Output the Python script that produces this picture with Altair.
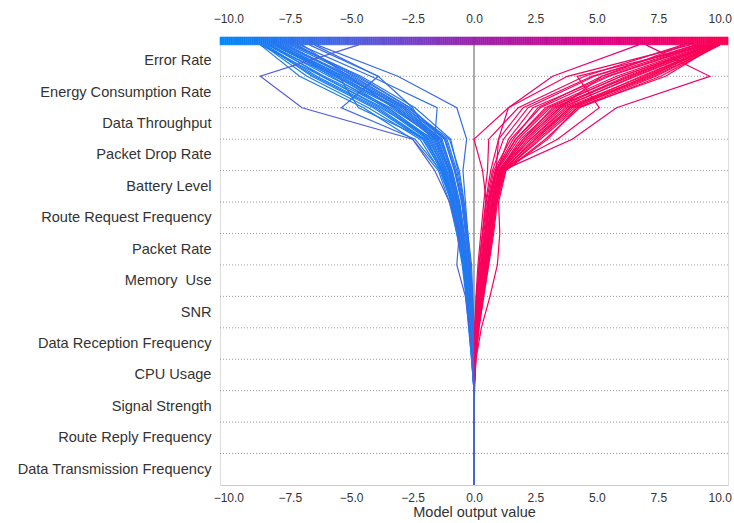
import json

import altair as alt
import numpy as np
import pandas as pd

# Features from the bottom of the plot (first contribution added) to the top
features = [
    "Data Transmission Frequency",
    "Route Reply Frequency",
    "Signal Strength",
    "CPU Usage",
    "Data Reception Frequency",
    "SNR",
    "Memory\u00a0 Use",
    "Packet Rate",
    "Route Request Frequency",
    "Battery Level",
    "Packet Drop Rate",
    "Data Throughput",
    "Energy Consumption Rate",
    "Error Rate",
]

base_value = 0.0
x_limits = [-10.34, 10.34]
axis_ticks = [-10.0, -7.5, -5.0, -2.5, 0.0, 2.5, 5.0, 7.5, 10.0]

# Cumulative model output (relative to base) after each feature, bottom -> top
blue_paths = [
    [0, 0, 0, 0, -0.05, -0.10, -0.20, -0.30, -0.50, -0.70, -1.10, -1.60, -3.20, -5.70, -8.40],
    [0, 0, 0, 0.02, -0.02, -0.08, -0.15, -0.25, -0.40, -0.60, -0.90, -1.30, -2.90, -5.30, -8.10],
    [0, 0, 0, 0, -0.10, -0.20, -0.30, -0.45, -0.70, -0.95, -1.30, -1.90, -3.70, -6.20, -8.70],
    [0, 0, 0, 0.01, 0.05, 0, -0.05, -0.10, -0.25, -0.40, -0.60, -1.00, -2.70, -5.00, -7.70],
    [0, 0, 0, 0, -0.03, -0.12, -0.22, -0.35, -0.55, -0.80, -1.20, -1.80, -3.50, -5.60, -8.00],
    [0, 0, 0, 0, 0, -0.05, -0.10, -0.20, -0.35, -0.50, -0.80, -1.20, -2.60, -4.70, -7.30],
    [0, 0, 0, 0, -0.05, -0.15, -0.25, -0.40, -0.60, -0.85, -1.25, -2.00, -3.90, -6.40, -8.50],
    [0, 0, 0, 0, 0.02, -0.02, -0.10, -0.18, -0.30, -0.45, -0.70, -1.10, -2.80, -5.10, -7.80],
    [0, 0, 0, 0, -0.08, -0.18, -0.28, -0.42, -0.62, -0.90, -1.35, -2.40, -5.40, -3.90, -6.50],
    [0, 0, 0, 0, 0, -0.05, -0.10, -0.15, -0.25, -0.35, -0.45, -0.30, -0.70, -3.10, -6.40],
    [0, 0, 0, 0, -0.04, -0.10, -0.18, -0.30, -0.48, -0.70, -1.00, -1.60, -1.50, -4.20, -7.10],
    [0, 0, 0, 0, -0.06, -0.14, -0.24, -0.36, -0.55, -0.78, -1.15, -1.75, -2.50, -3.90, -6.70],
    [0, 0, 0, 0, -0.02, -0.08, -0.16, -0.28, -0.45, -0.65, -1.00, -1.50, -3.10, -5.60, -8.20],
    [0, 0, 0, 0, -0.07, -0.16, -0.27, -0.40, -0.60, -0.88, -1.30, -2.10, -4.10, -6.60, -8.50],
    [0, 0, 0, 0, 0.03, -0.01, -0.06, -0.14, -0.28, -0.42, -0.65, -0.95, -2.40, -4.60, -7.40],
    [0, 0, 0, 0, -0.05, -0.12, -0.20, -0.32, -0.50, -0.72, -1.05, -1.55, -3.20, -5.40, -7.90],
    [0, 0, 0, 0, -0.09, -0.19, -0.30, -0.44, -0.66, -0.92, -1.40, -2.20, -4.30, -6.80, -8.60],
    [0, 0, 0, 0, -0.01, -0.07, -0.14, -0.24, -0.40, -0.58, -0.88, -1.35, -2.90, -5.20, -7.60],
    [0, 0, 0, 0, -0.04, -0.11, -0.19, -0.31, -0.49, -0.69, -1.02, -1.45, -3.40, -5.90, -8.30],
    [0, 0, 0, 0, -0.06, -0.13, -0.23, -0.37, -0.57, -0.82, -1.22, -1.85, -3.60, -5.80, -8.00],
    [0, 0, 0, 0, 0.01, -0.04, -0.09, -0.17, -0.32, -0.48, -0.75, -1.15, -2.60, -4.80, -7.50],
    [0, 0, 0, 0, -0.03, -0.09, -0.17, -0.27, -0.44, -0.62, -0.95, -1.40, -3.10, -5.50, -8.10],
    [0, 0, 0, 0, -0.10, -0.22, -0.33, -0.48, -0.70, -1.00, -1.45, -2.50, -4.50, -7.10, -8.70],
    [0, 0, 0, 0, -0.02, -0.06, -0.12, -0.20, -0.33, -0.50, -0.78, -1.20, -2.80, -4.90, -7.20],
    [0, 0, 0, 0, -0.05, -0.14, -0.24, -0.38, -0.58, -0.84, -1.18, -1.70, -3.50, -6.10, -8.40],
    [0, 0, 0, 0, -0.03, -0.10, -0.18, -0.29, -0.47, -0.66, -0.98, -1.50, -3.30, -5.10, -7.00],
    [0, 0, 0, 0, -0.06, -0.15, -0.26, -0.39, -0.59, -0.86, -1.28, -1.95, -4.70, -5.50, -8.10],
    [0, 0, 0, 0, -0.04, -0.12, -0.21, -0.33, -0.52, -0.75, -1.12, -1.65, -3.80, -6.20, -8.30],
    [0, 0, 0, 0, -0.02, -0.09, -0.17, -0.26, -0.42, -0.60, -0.92, -1.38, -3.00, -5.30, -7.90],
    [0, 0, 0, 0, -0.07, -0.17, -0.29, -0.43, -0.64, -0.91, -1.33, -2.05, -4.00, -6.50, -8.60],
]

red_paths = [
    [0, 0, 0, 0, 0.05, 0.15, 0.30, 0.50, 0.65, 0.80, 1.10, 2.20, 3.60, 6.50, 9.80],
    [0, 0, 0, 0, 0.02, 0.10, 0.20, 0.35, 0.50, 0.65, 0.95, 1.80, 3.10, 6.00, 9.60],
    [0, 0, 0, 0.02, 0.08, 0.20, 0.40, 0.60, 0.80, 0.95, 1.25, 2.60, 4.10, 7.00, 10.00],
    [0, 0, 0, 0, 0.03, 0.12, 0.25, 0.42, 0.58, 0.72, 1.00, 2.00, 3.40, 6.30, 9.70],
    [0, 0, 0, 0, 0.06, 0.18, 0.35, 0.55, 0.72, 0.88, 1.20, 2.40, 3.90, 6.80, 9.90],
    [0, 0, 0, 0, 0.01, 0.06, 0.14, 0.26, 0.40, 0.55, 0.80, 1.50, 2.70, 5.50, 9.40],
    [0, 0, 0, 0, 0.04, 0.14, 0.28, 0.46, 0.62, 0.78, 1.05, 2.10, 3.50, 6.60, 9.80],
    [0, 0, 0, 0, 0.02, 0.08, 0.18, 0.32, 0.46, 0.60, 0.90, 1.00, 1.40, 3.20, 6.70],
    [0, 0, 0, 0, 0.05, 0.16, 0.32, 0.52, 0.70, 0.85, 1.15, 4.00, 5.80, 9.60, 7.00],
    [0, 0, 0, 0, 0.03, 0.10, 0.22, 0.38, 0.54, 0.70, 1.00, 3.40, 5.10, 4.20, 9.50],
    [0, 0, 0, 0, 0.00, 0.04, 0.10, 0.20, 0.35, 0.50, 0.35, 0.00, 1.40, 3.80, 8.80],
    [0, 0, 0, 0, 0.07, 0.20, 0.38, 0.58, 0.76, 0.92, 1.28, 2.90, 4.30, 7.60, 10.00],
    [0, 0, 0, 0, 0.02, 0.09, 0.19, 0.33, 0.48, 0.62, 0.92, 1.70, 2.90, 5.80, 9.50],
    [0, 0, 0, 0, 0.04, 0.13, 0.26, 0.44, 0.60, 0.76, 1.08, 2.30, 3.70, 6.90, 9.90],
    [0, 0, 0, 0, 0.01, 0.05, 0.12, 0.22, 0.36, 0.50, 0.75, 1.20, 2.20, 4.90, 9.00],
    [0, 0, 0, 0, 0.05, 0.17, 0.33, 0.53, 0.70, 0.86, 1.18, 2.50, 4.00, 7.30, 10.00],
    [0, 0, 0, 0, 0.03, 0.11, 0.23, 0.40, 0.56, 0.70, 1.02, 1.90, 3.30, 6.20, 9.70],
    [0, 0, 0, 0, 0.06, 0.19, 0.36, 0.56, 0.74, 0.90, 1.22, 2.70, 4.20, 7.80, 9.90],
    [0, 0, 0, 0, 0.02, 0.07, 0.16, 0.29, 0.44, 0.58, 0.86, 1.60, 2.60, 5.20, 9.20],
    [0, 0, 0, 0, 0.04, 0.12, 0.24, 0.41, 0.57, 0.73, 1.04, 2.00, 3.20, 6.40, 9.60],
    [0, 0, 0, 0, 0.00, 0.03, 0.08, 0.16, 0.28, 0.40, 0.55, 0.60, 1.80, 4.50, 8.50],
    [0, 0, 0, 0, 0.05, 0.15, 0.30, 0.49, 0.66, 0.82, 1.12, 2.30, 3.80, 7.10, 9.90],
    [0, 0, 0, 0, 0.03, 0.09, 0.20, 0.34, 0.50, 0.64, 0.94, 1.40, 2.40, 5.40, 9.30],
    [0, 0, 0, 0, 0.08, 0.30, 0.65, 0.95, 1.05, 1.00, 1.30, 3.00, 4.20, 7.40, 10.00],
    [0, 0, 0, 0, 0.02, 0.08, 0.17, 0.30, 0.45, 0.60, 0.88, 1.70, 3.00, 6.00, 9.70],
    [0, 0, 0, 0, 0.04, 0.14, 0.27, 0.45, 0.61, 0.77, 1.06, 2.10, 3.50, 5.20, 8.60],
    [0, 0, 0, 0, 0.01, 0.05, 0.11, 0.21, 0.34, 0.47, 0.68, 1.00, 2.00, 4.80, 9.10],
    [0, 0, 0, 0, 0.06, 0.18, 0.34, 0.54, 0.71, 0.87, 1.16, 2.50, 3.90, 7.20, 9.80],
]

# The one sample that swings left on the two top features and ends mid-range
mixed_path = [0, 0, 0, 0, -0.05, -0.20, -0.35, -0.70, -0.60, -1.00, -1.60, -2.50, -7.00, -8.70, -4.70]

# Draw order: alternate the two groups, the mixed sample on top
ordered = []
for i in range(max(len(blue_paths), len(red_paths))):
    if i < len(blue_paths):
        ordered.append(blue_paths[i])
    if i < len(red_paths):
        ordered.append(red_paths[i])
ordered.append(mixed_path)

rows = []
for idx, path in enumerate(ordered):
    for level, v in enumerate(path):
        rows.append({
            "sample": f"s{idx:03d}",
            "level": level,
            "value": base_value + v,
            "final": base_value + path[-1],
        })
lines_df = pd.DataFrame(rows)

n_feat = len(features)
lo, hi = x_limits
bar_top = n_feat + 0.25

# Perceptual red-blue map sampled along its LCH path
color_scale = alt.Scale(
    domain=[lo, lo / 2, 0, hi / 2, hi],
    range=["#008afb", "#4b63e3", "#9b24ad", "#e00086", "#ff0051"],
    interpolate="rgb",
)
x_scale = alt.Scale(domain=x_limits, nice=False, zero=False)
y_scale = alt.Scale(domain=[0, bar_top], nice=False, zero=False)

label_expr = json.dumps(features) + "[floor(datum.value)]"

y_axis = alt.Axis(
    values=[i + 0.5 for i in range(n_feat)],
    labelExpr=label_expr,
    ticks=False,
    domain=False,
    grid=False,
    labelPadding=9,
    labelFontSize=14.6,
    labelColor="#333333",
    labelLimit=300,
    title=None,
)

bottom_axis = alt.Axis(
    orient="bottom",
    values=axis_ticks,
    format=".1f",
    ticks=False,
    grid=False,
    domainColor="#cccccc",
    domainWidth=1,
    labelPadding=7,
    labelFontSize=12,
    labelColor="#333333",
    labelFlush=False,
    title="Model output value",
    titleFontSize=14.5,
    titleFontWeight="normal",
    titleColor="#333333",
    titlePadding=2,
)

top_axis = alt.Axis(
    orient="top",
    values=axis_ticks,
    format=".1f",
    ticks=False,
    grid=False,
    domainColor="#cccccc",
    domainWidth=1,
    labelPadding=12,
    labelFontSize=12,
    labelColor="#333333",
    labelFlush=False,
    title=None,
)

# Dotted separators between feature rows
grid_df = pd.DataFrame({"level": list(range(1, n_feat))})
grid = alt.Chart(grid_df).mark_rule(
    color="#9a9a9a", strokeWidth=1, strokeDash=[1, 2]
).encode(y=alt.Y("level:Q", scale=y_scale, axis=None))

# Base value reference line
base_df = pd.DataFrame({"x": [base_value], "y0": [0], "y1": [n_feat]})
base_line = alt.Chart(base_df).mark_rule(color="#999999", strokeWidth=1.6).encode(
    x=alt.X("x:Q", scale=x_scale, axis=None),
    y=alt.Y("y0:Q", scale=y_scale, axis=None),
    y2="y1:Q",
)

# Decision paths
paths = alt.Chart(lines_df).mark_line(strokeWidth=1.2).encode(
    x=alt.X("value:Q", scale=x_scale, axis=bottom_axis),
    y=alt.Y("level:Q", scale=y_scale, axis=y_axis),
    color=alt.Color("final:Q", scale=color_scale, legend=None),
    detail="sample:N",
    order="level:Q",
)

# Colour bar across the top of the plot
edges = np.linspace(lo, hi, 241)
cb_df = pd.DataFrame({
    "x0": edges[:-1],
    "x1": edges[1:],
    "mid": (edges[:-1] + edges[1:]) / 2,
    "yb": n_feat,
    "yt": bar_top,
})
colorbar = alt.Chart(cb_df).mark_rect(strokeWidth=0.6).encode(
    x=alt.X("x0:Q", scale=x_scale, axis=top_axis),
    x2="x1:Q",
    y=alt.Y("yb:Q", scale=y_scale, axis=None),
    y2="yt:Q",
    color=alt.Color("mid:Q", scale=color_scale, legend=None),
    stroke=alt.Stroke("mid:Q", scale=color_scale, legend=None),
)

chart = (
    alt.layer(grid, base_line, paths, colorbar)
    .resolve_axis(x="independent", y="independent")
    .properties(
        width=508,
        height=448,
        padding={"left": 220, "top": 37, "right": 6, "bottom": 38},
        autosize=alt.AutoSizeParams(type="none"),
        background="white",
    )
    .configure_view(stroke=None)
    .configure(font="Liberation Sans")
)

chart.save("out.html", embed_options={"renderer": "svg", "actions": False})
